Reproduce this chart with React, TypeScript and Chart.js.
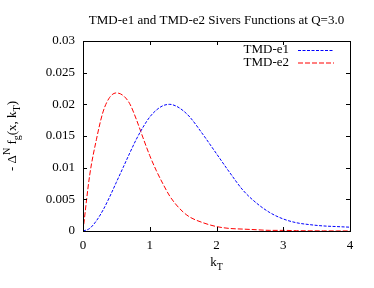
import React, { useEffect, useRef } from "react";
import { Chart, registerables } from "chart.js";

Chart.register(...registerables);

const titleText = "TMD-e1 and TMD-e2 Sivers Functions at Q=3.0";
const seriesNames = ["TMD-e1", "TMD-e2"];
const kT = [0, 0.1, 0.2, 0.3, 0.4, 0.5, 0.6, 0.7, 0.8, 0.9, 1.0, 1.1, 1.2, 1.3, 1.4, 1.5, 1.6, 1.8, 2.0, 2.2, 2.4, 2.6, 2.8, 3.0, 3.2, 3.4, 3.6, 3.8, 4.0];
const e1 = [0, 0.0004, 0.0016, 0.0033, 0.0054, 0.0077, 0.0100, 0.0123, 0.0145, 0.0164, 0.0180, 0.0191, 0.0198, 0.02, 0.0197, 0.019, 0.018, 0.0152, 0.0122, 0.0092, 0.0064, 0.0044, 0.0029, 0.0019, 0.0013, 0.001, 0.0008, 0.0007, 0.0006];
const e2 = [0, 0.0088, 0.0144, 0.0188, 0.0211, 0.0218, 0.0214, 0.0201, 0.0176, 0.0147, 0.0119, 0.0095, 0.0074, 0.0055, 0.0041, 0.003, 0.0022, 0.0013, 0.0007, 0.0004, 0.0003, 0.0002, 0.0001, 0.0001, 0.00005, 0.00003, 0.00002, 0.00001, 0.00001];
const xTickLabels = ["0", "1", "2", "3", "4"];
const yTickLabels = ["0", "0.005", "0.01", "0.015", "0.02", "0.025", "0.03"];

const FONT = "'Liberation Serif', 'Times New Roman', serif";
const colors = ["#0000ff", "#ff0000"];
const dashes = [[3, 1.5], [5, 2]];

const decorPlugin = {
  id: "decor",
  afterDatasetsDraw(chart: any) {
    const { ctx, chartArea: a, scales } = chart;
    const xs = scales.x;
    const ys = scales.y;
    ctx.save();
    ctx.strokeStyle = "#000";
    ctx.lineWidth = 1;
    ctx.setLineDash([]);
    ctx.strokeRect(Math.round(a.left) + 0.5, Math.round(a.top) + 0.5, Math.round(a.right - a.left), Math.round(a.bottom - a.top));
    const tl = 4;
    ctx.beginPath();
    xTickLabels.forEach((_, i) => {
      const px = Math.round(xs.getPixelForValue(i)) + 0.5;
      ctx.moveTo(px, a.bottom);
      ctx.lineTo(px, a.bottom - tl);
      ctx.moveTo(px, a.top);
      ctx.lineTo(px, a.top + tl);
    });
    yTickLabels.forEach((_, i) => {
      const py = Math.round(ys.getPixelForValue(i * 0.005)) + 0.5;
      ctx.moveTo(a.left, py);
      ctx.lineTo(a.left + tl, py);
      ctx.moveTo(a.right, py);
      ctx.lineTo(a.right - tl, py);
    });
    ctx.stroke();

    ctx.fillStyle = "#000";
    ctx.font = `13px ${FONT}`;
    ctx.textAlign = "center";
    ctx.textBaseline = "middle";
    ctx.fillText(titleText, (a.left + a.right) / 2, 21);

    const legX = 289;
    const legYs = [50, 63];
    seriesNames.forEach((name, i) => {
      ctx.font = `13px ${FONT}`;
      ctx.textAlign = "right";
      ctx.textBaseline = "middle";
      ctx.fillStyle = "#000";
      ctx.fillText(name, legX, legYs[i]);
    });
    seriesNames.forEach((_, i) => {
      ctx.setLineDash(dashes[i]);
      ctx.strokeStyle = colors[i];
      ctx.lineWidth = i === 1 ? 1.2 : 1;
      ctx.beginPath();
      const ly = i === 1 ? legYs[i] : legYs[i] + 0.5;
      ctx.moveTo(298, ly);
      ctx.lineTo(334, ly);
      ctx.stroke();
    });
    ctx.setLineDash([]);

    const drawParts = (parts: { t: string; s: number; dy: number }[], x0: number, y0: number) => {
      let x = x0;
      parts.forEach((p) => {
        ctx.font = `${p.s}px ${FONT}`;
        ctx.fillText(p.t, x, y0 + p.dy);
        x += ctx.measureText(p.t).width;
      });
    };
    const measure = (parts: { t: string; s: number; dy: number }[]) => {
      let w = 0;
      parts.forEach((p) => {
        ctx.font = `${p.s}px ${FONT}`;
        w += ctx.measureText(p.t).width;
      });
      return w;
    };
    ctx.fillStyle = "#000";
    ctx.textAlign = "left";
    ctx.textBaseline = "alphabetic";
    const xl = [
      { t: "k", s: 13, dy: 0 },
      { t: "T", s: 10, dy: 4 },
    ];
    const xw = measure(xl);
    drawParts(xl, (a.left + a.right) / 2 - xw / 2, 266);

    const yl = [
      { t: "- Δ", s: 13, dy: 0 },
      { t: "N", s: 10, dy: -6 },
      { t: " f", s: 13, dy: 0 },
      { t: "g", s: 10, dy: 4 },
      { t: "(x, k", s: 13, dy: 0 },
      { t: "T", s: 10, dy: 4 },
      { t: ")", s: 13, dy: 0 },
    ];
    const yw = measure(yl);
    ctx.translate(16, (a.top + a.bottom) / 2);
    ctx.rotate(-Math.PI / 2);
    drawParts(yl, -yw / 2, 0);
    ctx.restore();
  },
};

export default function App() {
  const ref = useRef<HTMLCanvasElement | null>(null);
  useEffect(() => {
    if (!ref.current) return;
    const chart = new Chart(ref.current, {
      type: "line",
      data: {
        datasets: [e1, e2].map((vals, i) => ({
          label: seriesNames[i],
          data: kT.map((k, j) => ({ x: k, y: vals[j] })),
          borderColor: colors[i],
          borderWidth: 1,
          borderDash: dashes[i],
          pointRadius: 0,
          fill: false,
          cubicInterpolationMode: "monotone" as const,
        })),
      },
      options: {
        responsive: false,
        animation: false,
        layout: { padding: { top: 41, right: 24, bottom: 0, left: 0 } },
        plugins: { legend: { display: false }, title: { display: false }, tooltip: { enabled: false } },
        scales: {
          x: {
            type: "linear",
            min: 0,
            max: 4,
            grid: { display: false, drawTicks: false },
            border: { display: false },
            afterFit: (s: any) => {
              s.height = 57;
            },
            ticks: {
              stepSize: 1,
              padding: 7,
              color: "#000",
              font: { family: FONT, size: 13 },
              maxRotation: 0,
              callback: (v: any) => xTickLabels[Math.round(Number(v))] ?? "",
            },
          },
          y: {
            type: "linear",
            min: 0,
            max: 0.03,
            grid: { display: false, drawTicks: false },
            border: { display: false },
            afterFit: (s: any) => {
              s.width = 83;
            },
            ticks: {
              stepSize: 0.005,
              padding: 8,
              color: "#000",
              font: { family: FONT, size: 13 },
              callback: (v: any) => yTickLabels[Math.round(Number(v) / 0.005)] ?? "",
            },
          },
        },
      },
      plugins: [decorPlugin],
    });
    return () => chart.destroy();
  }, []);
  return (
    <div style={{ position: "fixed", left: 0, top: 0, width: 374, height: 288, background: "#fff" }}>
      <canvas ref={ref} width={374} height={288} style={{ width: 374, height: 288 }} />
    </div>
  );
}
